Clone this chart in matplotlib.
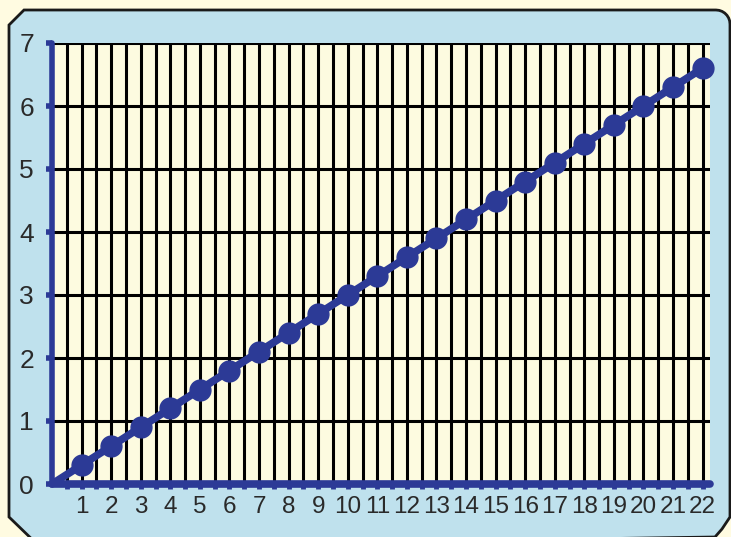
import numpy as np
import matplotlib
matplotlib.use("Agg")
import matplotlib.pyplot as plt
from matplotlib.patches import Polygon

# data
x_vals = [0, 1, 2, 3, 4, 5, 6, 7, 8, 9, 10, 11, 12, 13, 14, 15, 16, 17, 18, 19, 20, 21, 22]
y_vals = [0, 0.3, 0.6, 0.9, 1.2, 1.5, 1.8, 2.1, 2.4, 2.7, 3.0, 3.3, 3.6, 3.9,
          4.2, 4.5, 4.8, 5.1, 5.4, 5.7, 6.0, 6.3, 6.6]
x_ticks = list(range(1, 23))
y_ticks = list(range(0, 8))

blue = '#2c3a96'
W, H = 731, 537

plt.rcParams['font.family'] = ['Liberation Sans Narrow', 'Liberation Sans', 'DejaVu Sans']

fig = plt.figure(figsize=(W / 100, H / 100), dpi=100)
fig.patch.set_facecolor('#fffbe1')

# light blue panel, chamfered left corners, rounded top-right (pixel coords, y up)
ang = np.linspace(0, np.pi / 2, 8)
pts = [(9, 512), (24, 527)] + [(716 + 14 * np.sin(a), 513 + 14 * np.cos(a)) for a in ang] + \
      [(730, 20), (722, 8), (715, 0), (40, -10), (9, 20)]
pts = [(px / W, py / H) for px, py in pts]
panel = Polygon(pts, closed=True, transform=fig.transFigure, facecolor='#bfe1ed',
                edgecolor='#1a1a1a', linewidth=2.0, zorder=-1)
fig.patches.append(panel)

ax = fig.add_axes([52 / W, 53 / H, (710 - 52) / W, (494 - 53) / H])
ax.set_facecolor('#fdfbe0')

ax.set_xlim(0, 22.25)
ax.set_ylim(0, 7)

# grid: vertical lines every half unit, horizontal every unit
for xv in np.arange(0.5, 22.01, 0.5):
    ax.axvline(xv, color='black', linewidth=2.2, zorder=1)
for yv in y_ticks[1:]:
    ax.axhline(yv, color='black', linewidth=2.2, zorder=1)

ax.plot(x_vals, y_vals, color=blue, linewidth=5.5, marker='o', markersize=15,
        markevery=list(range(1, len(x_vals))), solid_capstyle='round', zorder=3, clip_on=False)

for s in ['top', 'right']:
    ax.spines[s].set_visible(False)
ax.spines['left'].set_color(blue)
ax.spines['left'].set_linewidth(4)
ax.spines['bottom'].set_color(blue)
ax.spines['bottom'].set_linewidth(5.5)
ax.spines['left'].set_capstyle('round')
ax.spines['bottom'].set_capstyle('round')
ax.spines['left'].set_zorder(4)
ax.spines['bottom'].set_zorder(4)

ax.set_xticks(np.arange(0.5, 22.01, 0.5), minor=True)
ax.set_xticks(x_ticks)
ax.set_yticks(y_ticks)
ax.set_yticklabels([str(v) for v in y_ticks], fontfamily=['Liberation Sans', 'DejaVu Sans'])
ax.tick_params(axis='x', which='both', direction='out', length=3.5, width=3.5, color=blue,
               labelsize=17.5, labelcolor='#2a2a2a', pad=5)
ax.tick_params(axis='y', direction='out', length=4, width=4, color=blue,
               labelsize=19, labelcolor='#2a2a2a', pad=9)

fig.savefig('out.png', dpi=100, facecolor=fig.get_facecolor())
